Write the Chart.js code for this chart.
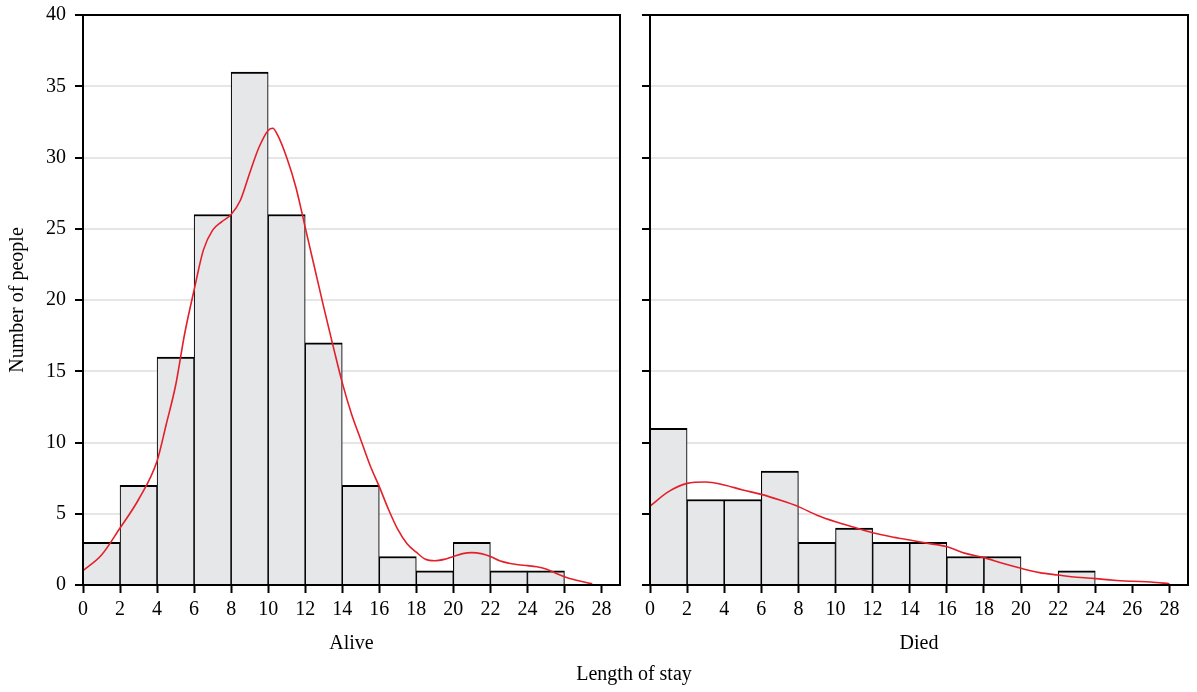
<!DOCTYPE html>
<html>
<head>
<meta charset="utf-8">
<script src="https://cdn.jsdelivr.net/npm/chart.js@4/dist/chart.umd.min.js"></script>
<style>
  html,body{margin:0;padding:0;background:#fff;}
  body{width:1197px;height:692px;position:relative;overflow:hidden;font-family:"Liberation Serif","DejaVu Serif",serif;}
  #w1{position:absolute;left:0;top:0;width:630px;height:692px;}
  #w2{position:absolute;left:630px;top:0;width:567px;height:692px;}
  #xt{position:absolute;left:0;width:1268px;top:662px;text-align:center;font-size:20px;color:#000;}
</style>
</head>
<body>
<div id="w1"><canvas id="c1"></canvas></div>
<div id="w2"><canvas id="c2"></canvas></div>
<div id="xt">Length of stay</div>
<script>
// ---- data ----
const xTicks = [0,2,4,6,8,10,12,14,16,18,20,22,24,26,28];
const yTicks = [0,5,10,15,20,25,30,35,40];
const binWidth = 2;
const aliveBinStarts = [0,2,4,6,8,10,12,14,16,18,20,22,24];
const aliveCounts   = [3,7,16,26,36,26,17,7,2,1,3,1,1];
const diedBinStarts = [0,2,4,6,8,10,12,14,16,18,20,22];
const diedCounts    = [11,6,6,8,3,4,3,3,2,2,0,1];
const aliveCurveX = [0,1,2,3,4,4.5,5,5.5,6,6.5,7,7.5,8,8.5,9,9.5,10,10.25,10.5,11,11.5,12,12.5,13,13.5,14,14.5,15,15.5,16,16.5,17,17.5,18,18.5,19,19.5,20,20.5,21,21.5,22,22.5,23,23.5,24,24.5,25,25.5,26,26.5,27,27.5];
const aliveCurveY = [1.0,2.1,4.0,6.0,8.7,11.3,14.0,17.7,20.7,23.5,24.9,25.5,26.0,27.0,28.9,30.7,31.9,32.05,31.6,30.0,27.9,25.1,22.3,19.5,16.8,14.2,12.0,10.2,8.4,6.9,5.3,3.9,2.9,2.3,1.8,1.7,1.8,2.0,2.2,2.27,2.2,2.0,1.7,1.53,1.42,1.36,1.28,1.12,0.85,0.58,0.38,0.23,0.08];
const diedCurveX = [0,1,2,3,4,5,6,7,8,9,10,11,12,13,14,15,16,17,18,19,20,21,22,23,24,25,26,27,28];
const diedCurveY = [5.54,6.55,7.13,7.23,7.02,6.67,6.36,5.96,5.5,4.9,4.44,4.05,3.67,3.39,3.16,2.92,2.69,2.22,1.92,1.52,1.17,0.87,0.70,0.54,0.45,0.33,0.26,0.21,0.09];
const panelTitles = ['Alive','Died'];
const yTitle = 'Number of people';

// ---- styling ----
const FONT = {family:'"Liberation Serif", "DejaVu Serif", serif', size:20};
const barFill = '#e6e7e9';
const curveColor = '#e3202a';

const framePlugin = {
  id:'frame',
  afterDatasetsDraw(chart){
    const a = chart.chartArea, c = chart.ctx;
    c.save(); c.strokeStyle = '#000'; c.lineWidth = 2;
    c.strokeRect(a.left, a.top, a.right - a.left, a.bottom - a.top);
    c.restore();
  }
};

function makeChart(id, starts, counts, cx, cy, title, showYLabels, yWidth, padRight){
  const bars = starts.map((s,i)=>({x:s+binWidth/2, y:counts[i]}));
  const curve = cx.map((x,i)=>({x:x, y:cy[i]}));
  return new Chart(document.getElementById(id), {
    type:'bar',
    data:{datasets:[
      {type:'line', data:curve, borderColor:curveColor, borderWidth:1.6, pointRadius:0, cubicInterpolationMode:'monotone', fill:false, order:0},
      {type:'bar', data:bars, backgroundColor:barFill, borderColor:'#000', borderWidth:{top:2, left:1.1, right:1.1, bottom:0}, borderSkipped:'start', barPercentage:1, categoryPercentage:1, order:1}
    ]},
    options:{
      responsive:true, maintainAspectRatio:false, animation:false,
      layout:{padding:{top:15, right:padRight, bottom:35, left:0}},
      plugins:{legend:{display:false}, tooltip:{enabled:false}},
      scales:{
        x:{
          type:'linear', min:0, max:29, offset:false,
          afterBuildTicks:s=>{ s.ticks = xTicks.map(v=>({value:v})); },
          afterFit:s=>{ s.height = 72; s.paddingLeft = 0; s.paddingRight = 0; },
          grid:{offset:false, drawOnChartArea:false, drawTicks:true, tickLength:8, tickColor:'#000', tickWidth:2},
          border:{display:true, color:'#000', width:2},
          ticks:{color:'#000', font:FONT, padding:5, maxRotation:0, autoSkip:false},
          title:{display:true, text:title, color:'#000', font:FONT, padding:{top:0,bottom:1}}
        },
        y:{
          type:'linear', min:0, max:40,
          afterBuildTicks:s=>{ s.ticks = yTicks.map(v=>({value:v})); },
          afterFit:s=>{ s.width = yWidth; s.paddingTop = 0; s.paddingBottom = 0; },
          grid:{
            color:ctx=>(ctx.tick && (ctx.tick.value===0 || ctx.tick.value===40)) ? 'rgba(0,0,0,0)' : '#e6e6e6',
            lineWidth:2, drawTicks:true, tickLength:8, tickColor:'#000', tickWidth:2
          },
          border:{display:true, color:'#000', width:2},
          ticks:{display:showYLabels, color:'#000', font:FONT, padding:9},
          title:{display:showYLabels, text:yTitle, color:'#000', font:FONT, padding:{top:6,bottom:0}}
        }
      }
    },
    plugins:[framePlugin]
  });
}

makeChart('c1', aliveBinStarts, aliveCounts, aliveCurveX, aliveCurveY, panelTitles[0], true, 83, 10);
makeChart('c2', diedBinStarts, diedCounts, diedCurveX, diedCurveY, panelTitles[1], false, 20, 9);
</script>
</body>
</html>
